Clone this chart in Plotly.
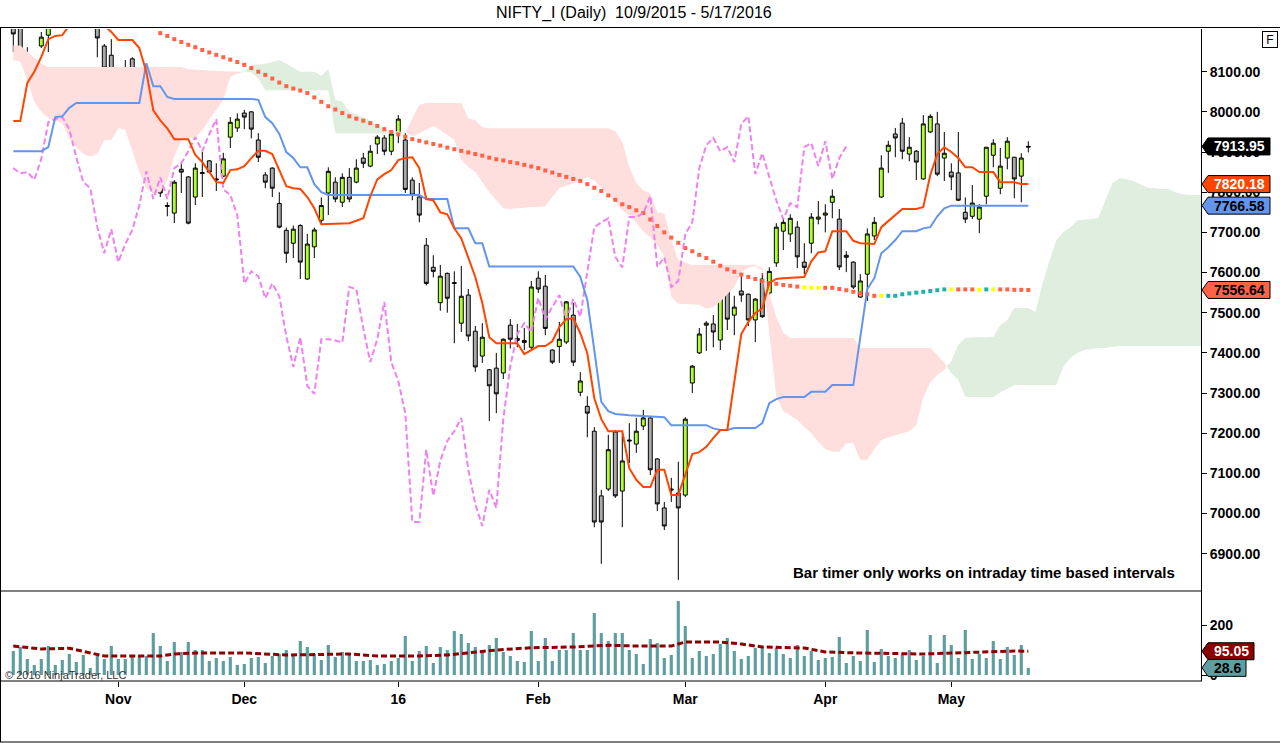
import plotly.graph_objects as go

# one entry per trading day, bar 0 = first bar on screen (mid Oct 2015)
opens = [8230, 8230, 8136, 8120, 8164, 8191, 8225, 8245, 8280, 8295,
         8255, 8262, 8232, 8164, 8141, 8075, 8102, 8132, 8054, 7992,
         7820, 7907, 7767, 7748, 7857, 7838, 7788, 7849, 7878, 7833,
         7840, 7937, 7960, 7997, 8000, 7930, 7843, 7860, 7772, 7705,
         7673, 7717, 7584, 7664, 7730, 7798, 7825, 7775, 7837, 7825,
         7885, 7865, 7920, 7935, 7902, 7947, 7930, 7830, 7788, 7668,
         7613, 7525, 7598, 7575, 7474, 7544, 7454, 7392, 7358, 7362,
         7350, 7469, 7436, 7431, 7414, 7586, 7566, 7407, 7416, 7427,
         7494, 7302, 7267, 7205, 7044, 7061, 7203, 7056, 7183, 7173,
         7218, 7238, 7136, 7014, 7061, 7051, 7046, 7325, 7400, 7469,
         7472, 7432, 7584, 7494, 7554, 7546, 7482, 7584, 7549, 7624,
         7703, 7696, 7713, 7626, 7673, 7733, 7743, 7775, 7733, 7643,
         7626, 7539, 7596, 7691, 7788, 7902, 7945, 7972, 7895, 7902,
         7833, 7950, 7970, 7885, 7850, 7848, 7750, 7740, 7733, 7790,
         7892, 7810, 7885, 7887, 7840, 7912]
highs = [8260, 8250, 8161, 8129, 8199, 8250, 8260, 8290, 8330, 8310,
         8275, 8270, 8240, 8169, 8181, 8087, 8129, 8136, 8056, 8022,
         7955, 7909, 7775, 7830, 7875, 7840, 7872, 7900, 7880, 7872,
         7898, 7987, 7996, 8005, 8002, 7947, 7850, 7862, 7800, 7712,
         7717, 7720, 7696, 7712, 7787, 7862, 7837, 7847, 7860, 7882,
         7898, 7917, 7942, 7942, 7947, 7992, 7947, 7837, 7823, 7686,
         7643, 7619, 7600, 7603, 7616, 7559, 7467, 7474, 7360, 7400,
         7436, 7484, 7472, 7462, 7579, 7603, 7594, 7409, 7477, 7529,
         7524, 7352, 7292, 7215, 7059, 7196, 7208, 7200, 7225, 7238,
         7258, 7240, 7138, 7029, 7089, 7129, 7240, 7370, 7462, 7479,
         7494, 7539, 7586, 7542, 7591, 7548, 7536, 7599, 7613, 7723,
         7733, 7745, 7728, 7673, 7748, 7778, 7770, 7807, 7758, 7653,
         7628, 7596, 7710, 7738, 7892, 7928, 7960, 7985, 7937, 7905,
         7992, 7994, 8000, 7950, 7872, 7950, 7787, 7818, 7770, 7912,
         7932, 7910, 7937, 7888, 7897, 7927]
lows = [8149, 8136, 8097, 8104, 8159, 8149, 8210, 8230, 8260, 8240,
        8225, 8215, 8136, 8104, 8062, 8022, 8054, 8059, 7974, 7942,
        7798, 7788, 7740, 7723, 7798, 7720, 7768, 7788, 7848, 7803,
        7838, 7910, 7950, 7957, 7934, 7875, 7810, 7788, 7710, 7624,
        7636, 7584, 7582, 7636, 7723, 7743, 7775, 7763, 7775, 7822,
        7860, 7862, 7895, 7892, 7892, 7922, 7798, 7780, 7725, 7568,
        7588, 7505, 7500, 7424, 7452, 7429, 7353, 7375, 7230, 7250,
        7335, 7411, 7414, 7407, 7409, 7549, 7444, 7372, 7375, 7422,
        7367, 7292, 7190, 6966, 6875, 7056, 7039, 6966, 7126, 7151,
        7208, 7096, 7006, 6959, 7029, 6835, 7041, 7300, 7397, 7405,
        7414, 7407, 7457, 7444, 7527, 7467, 7427, 7487, 7532, 7614,
        7656, 7676, 7611, 7596, 7648, 7720, 7700, 7735, 7606, 7601,
        7559, 7537, 7529, 7681, 7786, 7848, 7887, 7882, 7877, 7830,
        7831, 7947, 7840, 7828, 7805, 7778, 7723, 7733, 7698, 7770,
        7862, 7795, 7857, 7785, 7775, 7899]
closes = [8194, 8154, 8129, 8118, 8186, 8220, 8245, 8280, 8295, 8255,
          8262, 8232, 8184, 8109, 8082, 8073, 8074, 8062, 7979, 7984,
          7935, 7798, 7765, 7825, 7850, 7723, 7860, 7847, 7850, 7831,
          7883, 7974, 7982, 7987, 7957, 7887, 7825, 7810, 7713, 7648,
          7708, 7626, 7671, 7706, 7767, 7852, 7783, 7837, 7783, 7860,
          7872, 7902, 7937, 7902, 7945, 7982, 7807, 7793, 7743, 7573,
          7603, 7591, 7536, 7573, 7541, 7442, 7365, 7439, 7318, 7298,
          7434, 7434, 7431, 7426, 7564, 7559, 7461, 7377, 7434, 7527,
          7377, 7330, 7250, 6979, 6979, 7159, 7044, 7131, 7181, 7205,
          7238, 7109, 7024, 6969, 7059, 7014, 7235, 7367, 7447, 7474,
          7452, 7537, 7484, 7514, 7544, 7482, 7534, 7490, 7603, 7713,
          7725, 7735, 7639, 7613, 7738, 7738, 7748, 7790, 7614, 7638,
          7564, 7579, 7696, 7725, 7860, 7917, 7935, 7902, 7912, 7875,
          7970, 7989, 7845, 7897, 7838, 7780, 7733, 7773, 7763, 7912,
          7922, 7865, 7927, 7833, 7885, 7913.95]
volumes = [96, 112, 64, 40, 64, 116, 40, 60, 84, 52,
           80, 28, 76, 64, 116, 64, 64, 76, 80, 76,
           168, 116, 56, 132, 92, 132, 100, 100, 56, 68,
           56, 72, 40, 44, 68, 72, 48, 76, 84, 100,
           80, 136, 112, 84, 60, 120, 72, 92, 84, 56,
           56, 60, 40, 44, 56, 68, 156, 56, 96, 116,
           48, 112, 100, 176, 164, 128, 112, 100, 120, 148,
           92, 76, 56, 52, 176, 56, 148, 56, 100, 100,
           168, 100, 100, 248, 168, 136, 168, 168, 100, 84,
           44, 144, 128, 68, 80, 296, 196, 68, 96, 76,
           84, 124, 148, 96, 64, 76, 108, 112, 88, 108,
           84, 68, 120, 76, 96, 60, 68, 72, 152, 48,
           76, 56, 180, 52, 104, 76, 68, 80, 100, 60,
           76, 160, 48, 160, 120, 68, 180, 64, 84, 68,
           136, 64, 112, 80, 120, 28.6]

month_ticks = [15, 33, 55, 75, 96, 116, 134]
month_labels = ['Nov', 'Dec', '16', 'Feb', 'Mar', 'Apr', 'May']
price_ticks = [6900, 7000, 7100, 7200, 7300, 7400, 7500, 7600, 7700, 7800, 7900, 8000, 8100]
volume_ticks = [0, 200]

# Ichimoku conversion line (vertices)
tenkan_x = [0, 1, 2, 3, 4, 5, 6, 7, 8, 13, 14, 15, 17, 18, 19, 20, 21, 22, 23, 25,
            26, 27, 28, 29, 30, 31, 32, 33, 34, 35, 36, 37, 38, 39, 40, 41, 42, 43, 44, 48,
            50, 51, 52, 53, 54, 55, 56, 57, 58, 59, 60, 61, 62, 63, 64, 65, 66, 67, 68, 69,
            72, 73, 74, 75, 76, 77, 78, 79, 80, 81, 82, 83, 84, 85, 87, 88, 89, 90, 91, 92,
            93, 94, 95, 96, 97, 98, 99, 100, 101, 102, 103, 104, 105, 106, 107, 108, 109, 110, 113, 114,
            115, 116, 117, 119, 120, 121, 123, 124, 125, 126, 127, 129, 130, 131, 132, 133, 134, 135, 136, 137,
            138, 140, 141, 143, 144, 145]
tenkan_y = [7977, 7977, 8072, 8100, 8137, 8181, 8189, 8191, 8215, 8215, 8199, 8179, 8179, 8159, 8100, 8004, 7979, 7959, 7932, 7932,
            7893, 7875, 7850, 7825, 7823, 7855, 7857, 7865, 7885, 7903, 7903, 7895, 7855, 7815, 7810, 7808, 7788, 7760, 7720, 7723,
            7735, 7790, 7832, 7845, 7855, 7880, 7885, 7887, 7860, 7783, 7780, 7750, 7745, 7710, 7685, 7635, 7589, 7524, 7439, 7424,
            7424, 7397, 7407, 7417, 7417, 7429, 7464, 7484, 7486, 7449, 7399, 7287, 7235, 7205, 7205, 7113, 7084, 7066, 7066, 7109,
            7109, 7046, 7046, 7100, 7148, 7153, 7166, 7188, 7208, 7208, 7325, 7447, 7477, 7499, 7511, 7574, 7584, 7586, 7589, 7628,
            7650, 7653, 7703, 7703, 7679, 7673, 7671, 7713, 7728, 7743, 7758, 7758, 7763, 7843, 7895, 7912, 7900, 7885, 7862, 7862,
            7850, 7850, 7825, 7825, 7820.18, 7820.18]

# Ichimoku base line
kijun_x = [0, 4, 5, 6, 7, 8, 9, 18, 19, 20, 21, 22, 23, 34, 35, 36, 37, 38, 39, 40,
           41, 42, 43, 44, 45, 58, 59, 62, 63, 65, 66, 67, 68, 80, 81, 82, 83, 84, 85, 86,
           88, 93, 94, 99, 100, 101, 102, 103, 106, 107, 108, 109, 110, 113, 114, 116, 117, 120, 121, 122,
           123, 124, 125, 126, 127, 129, 130, 131, 132, 133, 134, 145]
kijun_y = [7902, 7902, 7912, 7987, 7989, 8010, 8022, 8022, 8121, 8064, 8064, 8037, 8032, 8032, 8030, 7987, 7972, 7945, 7900, 7885,
           7862, 7862, 7820, 7800, 7793, 7793, 7783, 7783, 7710, 7710, 7673, 7673, 7615, 7615, 7589, 7532, 7407, 7278, 7255, 7248,
           7245, 7240, 7220, 7220, 7212, 7208, 7208, 7213, 7213, 7225, 7275, 7285, 7290, 7290, 7303, 7303, 7320, 7320, 7439, 7559,
           7586, 7648, 7663, 7681, 7703, 7703, 7710, 7713, 7740, 7760, 7766.58, 7766.58]

# lagging span = closes drawn this many bars back
CHIKOU_LAG = 26

# slow moving average (square dots), starts at bar 21 (earlier values are off the top)
sma_start = 21
sma_vals = [8196, 8189, 8181, 8174, 8167, 8161, 8154, 8148, 8142, 8136,
            8130, 8124, 8117, 8109, 8100, 8092, 8083, 8073, 8064, 8058,
            8053, 8047, 8036, 8025, 8014, 8006, 7997, 7989, 7983, 7978,
            7972, 7965, 7957, 7950, 7944, 7938, 7932, 7928, 7924, 7920,
            7916, 7911, 7907, 7903, 7899, 7895, 7891, 7886, 7882, 7879,
            7875, 7872, 7868, 7864, 7860, 7854, 7849, 7843, 7838, 7833,
            7828, 7820, 7811, 7803, 7792, 7781, 7770, 7763, 7755, 7748,
            7732, 7716, 7700, 7687, 7674, 7661, 7653, 7644, 7636, 7627,
            7617, 7608, 7602, 7595, 7589, 7584, 7579, 7574, 7572, 7569,
            7567, 7565, 7563, 7562, 7562, 7562, 7562, 7559, 7556, 7552,
            7549, 7546, 7542, 7542, 7542, 7542, 7546, 7548, 7550, 7552,
            7554, 7556, 7558, 7558, 7558, 7558, 7558, 7557, 7558, 7558,
            7558, 7558, 7557, 7557, 7556.64]
# slope state of each dot: d = falling, f = flat, u = rising
sma_slope = ("dddddddddddddddddddddddddddddddddddddddddddddddddddddddddddddddddddddddddddddddddddddddddddd"
             "fff" "dddddddd" "f" "uuuuuuuuu" "f" "ddd" "f" "u" "f" "ddddd")

# leading spans A and B, already shifted forward (bar 0..171)
span_a = [8129, 8125, 8080, 8025, 8000, 7984, 7978, 7972, 7935, 7912,
          7895, 7888, 7895, 7930, 7930, 7959, 7955, 7900, 7850, 7810,
          7798, 7800, 7830, 7888, 7930, 7935, 7937, 7955, 7979, 8005,
          8030, 8087, 8095, 8100, 8117, 8118, 8120, 8124, 8129, 8120,
          8110, 8100, 8100, 8100, 8090, 8107, 8030, 8025, 8000, 7993,
          7986, 7979, 7962, 7956, 7953, 7952, 7950, 7940, 7947, 7955,
          7964, 7955, 7942, 7930, 7880, 7863, 7850, 7825, 7800, 7780,
          7760, 7758, 7760, 7762, 7763, 7763, 7765, 7788, 7810, 7816,
          7822, 7830, 7837, 7830, 7810, 7795, 7775, 7755, 7744, 7722,
          7702, 7688, 7668, 7640, 7540, 7522, 7521, 7520, 7520, 7510,
          7514, 7527, 7545, 7564, 7600, 7612, 7616, 7605, 7450, 7290,
          7255, 7245, 7233, 7215, 7200, 7178, 7160, 7154, 7154, 7175,
          7175, 7134, 7134, 7160, 7183, 7190, 7195, 7200, 7205, 7220,
          7290, 7327, 7345, 7358, 7380, 7420, 7437, 7438, 7438, 7439,
          7440, 7469, 7482, 7512, 7512, 7512, 7502, 7570, 7628, 7681,
          7700, 7712, 7730, 7732, 7734, 7735, 7780, 7822, 7835, 7833,
          7828, 7820, 7812, 7810, 7808, 7808, 7800, 7795, 7793, 7793,
          7793, 7793]
span_b = [8165, 8165, 8150, 8135, 8120, 8112, 8112, 8112, 8112, 8112,
          8112, 8112, 8112, 8112, 8112, 8112, 8112, 8112, 8112, 8112,
          8112, 8112, 8112, 8112, 8112, 8106, 8105, 8104, 8103, 8102,
          8101, 8100, 8100, 8100, 8098, 8083, 8054, 8054, 8054, 8054,
          8054, 8054, 8054, 8054, 8054, 8054, 7947, 7947, 7947, 7947,
          7947, 7947, 7947, 7947, 7947, 7947, 7947, 7985, 8017, 8022,
          8022, 8022, 8022, 8022, 8022, 7984, 7979, 7962, 7959, 7959,
          7959, 7959, 7959, 7959, 7959, 7959, 7959, 7959, 7959, 7959,
          7959, 7959, 7959, 7959, 7959, 7959, 7952, 7925, 7863, 7822,
          7805, 7797, 7750, 7747, 7681, 7631, 7625, 7619, 7619, 7619,
          7619, 7619, 7619, 7619, 7619, 7619, 7619, 7611, 7549, 7490,
          7450, 7437, 7437, 7437, 7437, 7437, 7437, 7437, 7437, 7437,
          7437, 7412, 7412, 7412, 7412, 7412, 7412, 7412, 7412, 7412,
          7412, 7412, 7395, 7375, 7350, 7333, 7290, 7290, 7290, 7290,
          7290, 7302, 7310, 7320, 7320, 7320, 7320, 7320, 7320, 7320,
          7365, 7387, 7400, 7407, 7410, 7412, 7412, 7415, 7417, 7417,
          7417, 7417, 7417, 7417, 7417, 7417, 7417, 7417, 7417, 7417,
          7417, 7417]

# volume moving average (vertices)
vol_sma_x = [0, 4, 8, 11, 13, 21, 23, 26, 33, 39, 45, 48, 52, 58, 62, 66, 69, 74, 80, 85,
             89, 94, 96, 101, 104, 107, 113, 116, 121, 130, 137, 143, 145]
vol_sma_y = [116, 104, 107, 89, 76, 76, 84, 88, 88, 80, 84, 84, 76, 76, 80, 93, 100, 109, 112, 119,
             116, 116, 132, 132, 124, 112, 108, 92, 88, 84, 92, 96, 95.05]

FONT = 'Liberation Sans, Arial, sans-serif'
PINK = '#FFDEDE'
GREEN = '#DFEEDF'
SLOPE_COLORS = {'d': '#FF6347', 'f': '#FFFF00', 'u': '#20B2AA'}

# figure geometry in pixels
W, H = 1280, 743
PLOT_L, PLOT_R, PLOT_T, PLOT_B = 1, 1201, 29, 681
PANEL_SPLIT = 591
X_RANGE = [(PLOT_L - 13.3) / 7.0, (PLOT_R - 13.3) / 7.0]
PRICE_RANGE = [6807.2, 8206.3]
VOL_RANGE = [-24, 336]
VOL_TOP = (PLOT_B - PANEL_SPLIT) / (PLOT_B - PLOT_T)


def px_x(p):
    return (p - PLOT_L) / (PLOT_R - PLOT_L)


def px_y(p):
    return (PLOT_B - p) / (PLOT_B - PLOT_T)


def cloud_pieces(xs, a, b):
    """split the cloud into runs where span A is above / below span B"""
    pieces = []
    cx, ca, cb = [xs[0]], [a[0]], [b[0]]
    up = a[0] >= b[0]
    for i in range(1, len(xs)):
        now_up = a[i] >= b[i]
        if now_up != up:
            d0 = a[i - 1] - b[i - 1]
            d1 = a[i] - b[i]
            t = d0 / (d0 - d1)
            xc = xs[i - 1] + t * (xs[i] - xs[i - 1])
            yc = a[i - 1] + t * (a[i] - a[i - 1])
            cx.append(xc); ca.append(yc); cb.append(yc)
            pieces.append((up, cx, ca, cb))
            cx, ca, cb = [xc], [yc], [yc]
            up = now_up
        cx.append(xs[i]); ca.append(a[i]); cb.append(b[i])
    pieces.append((up, cx, ca, cb))
    return pieces


bars = list(range(len(closes)))
fig = go.Figure()

# cloud
for bullish, xs, top, bot in cloud_pieces(list(range(len(span_a))), span_a, span_b):
    fig.add_trace(go.Scatter(
        x=xs + xs[::-1], y=top + bot[::-1], mode='lines', fill='toself',
        fillcolor=GREEN if bullish else PINK, line=dict(width=0),
        hoverinfo='skip', xaxis='x', yaxis='y'))

# price bars
fig.add_trace(go.Candlestick(
    x=bars, open=opens, high=highs, low=lows, close=closes,
    increasing=dict(line=dict(color='black', width=1), fillcolor='#ADFF2F'),
    decreasing=dict(line=dict(color='black', width=1), fillcolor='#A9A9A9'),
    whiskerwidth=0, hoverinfo='skip', xaxis='x', yaxis='y'))

# slow average, dotted squares coloured by slope
sma_x = [sma_start + i for i in range(len(sma_vals))]
fig.add_trace(go.Scatter(
    x=sma_x, y=sma_vals, mode='markers',
    marker=dict(symbol='square', size=4, color=[SLOPE_COLORS[c] for c in sma_slope]),
    hoverinfo='skip', xaxis='x', yaxis='y'))

# lagging span
fig.add_trace(go.Scatter(
    x=[b - CHIKOU_LAG for b in bars[CHIKOU_LAG:]], y=closes[CHIKOU_LAG:], mode='lines',
    line=dict(color='#EE82EE', width=2, dash='6px,3px'),
    hoverinfo='skip', xaxis='x', yaxis='y'))

fig.add_trace(go.Scatter(x=kijun_x, y=kijun_y, mode='lines',
                         line=dict(color='#6495ED', width=2),
                         hoverinfo='skip', xaxis='x', yaxis='y'))
fig.add_trace(go.Scatter(x=tenkan_x, y=tenkan_y, mode='lines',
                         line=dict(color='#FF4500', width=2),
                         hoverinfo='skip', xaxis='x', yaxis='y'))

# volume panel
fig.add_trace(go.Bar(x=bars, y=volumes, width=0.45, marker=dict(color='#5F9EA0', line=dict(width=0)),
                     hoverinfo='skip', xaxis='x', yaxis='y2'))
fig.add_trace(go.Scatter(x=vol_sma_x, y=vol_sma_y, mode='lines',
                         line=dict(color='#8B0000', width=3, dash='6px,3px'),
                         hoverinfo='skip', xaxis='x', yaxis='y2'))

axis_font = dict(family=FONT, size=14, color='black', weight='bold')
fig.update_layout(
    width=W, height=H,
    margin=dict(l=PLOT_L, r=W - PLOT_R, t=PLOT_T, b=H - PLOT_B),
    paper_bgcolor='white', plot_bgcolor='white', showlegend=False,
    font=dict(family=FONT, color='black'),
    boxgap=0.2,
    xaxis=dict(range=X_RANGE, anchor='y2', tickvals=month_ticks, ticktext=month_labels,
               ticks='outside', ticklen=5, tickcolor='black', tickfont=axis_font,
               showgrid=False, zeroline=False, showline=False,
               rangeslider=dict(visible=False)),
    yaxis=dict(domain=[VOL_TOP, 1], range=PRICE_RANGE, side='right', anchor='x',
               tickvals=price_ticks, tickformat='.2f', ticks='outside', ticklen=5,
               tickcolor='black', tickfont=axis_font, showline=True, linecolor='black',
               linewidth=1, showgrid=False, zeroline=False),
    yaxis2=dict(domain=[0, VOL_TOP], range=VOL_RANGE, side='right', anchor='x',
                tickvals=volume_ticks, ticks='outside', ticklen=5, tickcolor='black',
                tickfont=axis_font, showline=True, linecolor='black', linewidth=1,
                showgrid=False, zeroline=False),
)

# frame lines
frame = [
    (0, 27.5, W, 27.5),           # top rule under title
    (0.5, 27.5, 0.5, 742),        # left edge
    (0, 742, W, 742),             # bottom edge
    (0, PANEL_SPLIT, 1202, PANEL_SPLIT),
    (0, PLOT_B, 1202, PLOT_B),
]
for x0, y0, x1, y1 in frame:
    fig.add_shape(type='line', xref='paper', yref='paper',
                  x0=px_x(x0), y0=px_y(y0), x1=px_x(x1), y1=px_y(y1),
                  line=dict(color='black', width=1), layer='above')


def value_to_paper(v, rng, dom):
    return dom[0] + (v - rng[0]) / (rng[1] - rng[0]) * (dom[1] - dom[0])


def add_flag(value, rng, dom, right_px, fill, text_color, label):
    yc = value_to_paper(value, rng, dom)
    h = 8.5 / (PLOT_B - PLOT_T)
    xt, xs, xr = px_x(1202), px_x(1208), px_x(right_px)
    path = (f"M {xt},{yc} L {xs},{yc + h} L {xr},{yc + h} L {xr},{yc - h} "
            f"L {xs},{yc - h} Z")
    fig.add_shape(type='path', path=path, xref='paper', yref='paper',
                  fillcolor=fill, line=dict(color='black', width=1), layer='above')
    fig.add_annotation(x=(xs + xr) / 2, y=yc, xref='paper', yref='paper', text=label,
                       showarrow=False, xanchor='center', yanchor='middle',
                       font=dict(family=FONT, size=14, color=text_color, weight='bold'))


main_dom = [VOL_TOP, 1]
vol_dom = [0, VOL_TOP]
add_flag(closes[-1], PRICE_RANGE, main_dom, 1270, 'black', 'white', f"{closes[-1]:.2f}")
add_flag(tenkan_y[-1], PRICE_RANGE, main_dom, 1270, '#FF4500', 'white', f"{tenkan_y[-1]:.2f}")
add_flag(kijun_y[-1], PRICE_RANGE, main_dom, 1270, '#6495ED', 'black', f"{kijun_y[-1]:.2f}")
add_flag(sma_vals[-1], PRICE_RANGE, main_dom, 1270, '#FF6347', 'black', f"{sma_vals[-1]:.2f}")
add_flag(vol_sma_y[-1], VOL_RANGE, vol_dom, 1254, '#8B0000', 'white', f"{vol_sma_y[-1]:.2f}")
add_flag(volumes[-1], VOL_RANGE, vol_dom, 1246, '#5F9EA0', 'black', f"{volumes[-1]:g}")

# texts
fig.add_annotation(x=px_x(634), y=px_y(13), xref='paper', yref='paper',
                   text='NIFTY_I (Daily) \u00a010/9/2015 - 5/17/2016', showarrow=False,
                   xanchor='center', yanchor='middle',
                   font=dict(family=FONT, size=16, color='black'))
fig.add_annotation(x=px_x(1177), y=px_y(572), xref='paper', yref='paper',
                   text='Bar timer only works on intraday time based intervals', showarrow=False,
                   xanchor='right', yanchor='middle',
                   font=dict(family=FONT, size=15, color='black', weight='bold'))
fig.add_annotation(x=px_x(3), y=px_y(675), xref='paper', yref='paper',
                   text='\u00a9 2016 NinjaTrader, LLC', showarrow=False,
                   xanchor='left', yanchor='middle',
                   font=dict(family=FONT, size=11, color='#333333'))
fig.add_annotation(x=px_x(1269.5), y=px_y(39), xref='paper', yref='paper',
                   text='F', showarrow=False, xanchor='center', yanchor='middle',
                   bgcolor='white', bordercolor='black', borderwidth=1, borderpad=1,
                   width=12, height=13,
                   font=dict(family=FONT, size=12, color='black'))

# the page's default 8px body margin would shift the whole chart
fig.write_html("out.html", config={'displayModeBar': False},
               post_script="document.body.style.margin='0';")
